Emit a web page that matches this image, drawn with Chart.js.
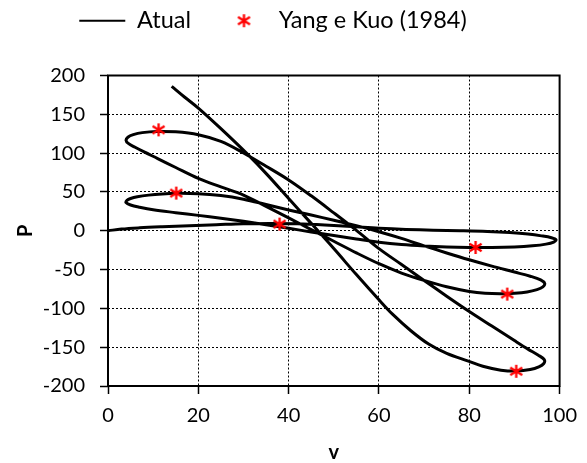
<!DOCTYPE html>
<html><head><meta charset="utf-8">
<script src="https://cdn.jsdelivr.net/npm/chart.js@4.4.1/dist/chart.umd.min.js"></script>
<style>html,body{margin:0;padding:0;background:#fff}</style>
</head><body>
<canvas id="c" width="587" height="463"></canvas>
<script>
// Atual: equilibrium path (v, P) in path order
const atualV = [0,3,7,12,18,24,30,36,42,48,54,60,66,72,78,84,89,93,96,98.2,99.2,
  98.7,97,94,90,85,80,75,70,65,60,55,50,45,40,35,30,25,20,15,10,7,5,4,4.2,
  5,6.5,9,12,15,20,25,30,35,40,45,50,55,60,65,70,75,80,85,90,93.5,95.8,96.7,
  96.3,95,92.8,90,87,83.5,80,75,70,65,60,55,50,45,40,35,30,25,20,15,11,8,6,4.5,4,
  4.4,5.6,7.6,10.8,15,20,25,30,35,40,45,50,55,60,65,70,75,80,85,90,93,95.3,96.6,
  96.5,95.4,93.5,90.5,87,83,79.8,75,71,67,63,60,55,50,45,40,35.3,31,25,20,17,14.1];
const atualP = [0,2.2,3.8,5.2,6.6,7.8,9,9.5,8.9,7.4,5.4,3.2,1.7,0.8,0.1,-0.9,-2.4,-4.3,-6.6,-9,-11.6,
  -14.5,-17.2,-19.4,-20.9,-21.6,-21.5,-20.9,-19.7,-17.8,-14.8,-10.6,-6.1,-1.5,3.1,7.7,12.1,16.1,19.8,23.3,27,30.3,33.2,36.2,39,
  41.5,43.8,45.9,47.4,48.2,47.8,45.3,40.6,33.8,26.8,20.2,13.6,6.6,-1.2,-9.8,-19.4,-28.6,-37.4,-45.6,-53.2,-58.6,-63.3,-67.8,
  -72.3,-75.8,-78.8,-80.5,-81.2,-80.6,-78.2,-72.2,-64,-54.5,-42.5,-28.5,-13.5,1.5,16.5,31.5,46,56.5,67.5,81.5,93,101.5,107.5,112.5,116.5,
  120.5,123.8,126.4,127.9,127.4,123.6,115,100.2,83.2,65.5,45,23,0.5,-23,-43.5,-64,-84.3,-104,-122.8,-141.5,-152.5,-160.3,-166,
  -171,-175.3,-178.8,-180.8,-179.6,-174.6,-168,-158,-146,-128.5,-107.5,-89,-56.5,-23,9.5,41.5,72,98,131.5,158,172,186];
// Yang e Kuo (1984)
const yangV = [11.2,15.1,38.0,81.4,88.4,90.4];
const yangP = [130,48.5,8.6,-21.5,-81.6,-181];
// tick values
const xTicks = [0,20,40,60,80,100];
const yTicks = [-200,-150,-100,-50,0,50,100,150,200];

Chart.defaults.font.family = "Lato, 'Open Sans', sans-serif";
Chart.defaults.color = '#000';

function makeStar() {
  const c = document.createElement('canvas');
  c.width = 15; c.height = 15;
  const g = c.getContext('2d');
  g.strokeStyle = '#ff0000'; g.lineWidth = 2.3;
  g.beginPath();
  g.moveTo(7.5, 1); g.lineTo(7.5, 14);
  g.moveTo(1.5, 3.8); g.lineTo(13.5, 11.2);
  g.moveTo(1.5, 11.2); g.lineTo(13.5, 3.8);
  g.stroke();
  return c;
}
const star = makeStar();

const framePlugin = {
  id: 'frame',
  beforeDatasetsDraw(chart) {
    const {ctx, chartArea: a} = chart;
    ctx.save();
    ctx.strokeStyle = '#000'; ctx.lineWidth = 2;
    ctx.strokeRect(a.left, a.top, a.right - a.left, a.bottom - a.top);
    ctx.restore();
  }
};

const gridOpts = {color: '#000', lineWidth: 1, tickLength: 8, tickColor: '#000', tickWidth: 1.5, tickBorderDash: []};

new Chart(document.getElementById('c'), {
  type: 'scatter',
  data: {
    datasets: [
      {
        label: 'Atual',
        data: atualV.map((v, i) => ({x: v, y: atualP[i]})),
        showLine: true, borderColor: '#000', backgroundColor: '#000',
        borderWidth: 3, pointBorderWidth: 2, pointRadius: 0, pointHoverRadius: 0,
        pointStyle: 'line', tension: 0.35, order: 2
      },
      {
        label: 'Yang e Kuo (1984)',
        data: yangV.map((v, i) => ({x: v, y: yangP[i]})),
        showLine: false, pointStyle: star, pointRadius: 7,
        borderColor: '#ff0000', backgroundColor: '#ff0000', order: 1
      }
    ]
  },
  options: {
    responsive: false, animation: false, devicePixelRatio: 1,
    layout: {padding: {left: -16, right: 25, top: -21, bottom: 0}},
    plugins: {
      legend: {
        display: true, position: 'top',
        labels: {
          font: {size: 23.5}, color: '#000', usePointStyle: true, pointStyleWidth: 46, padding: 30,
          sort: (a, b) => a.datasetIndex - b.datasetIndex
        }
      },
      title: {display: true, text: '', weight: 500, padding: {top: 21, bottom: 0}, font: {size: 10}},
      tooltip: {enabled: false}
    },
    scales: {
      x: {
        type: 'linear', position: 'bottom', min: 0, max: 100,
        afterBuildTicks: s => { s.ticks = xTicks.map(v => ({value: v})); },
        afterFit: s => { s.height = 77; },
        grid: gridOpts,
        border: {display: false, dash: [2, 2]},
        ticks: {font: {size: 20}, color: '#000', padding: 10, maxRotation: 0},
        title: {display: true, text: 'v', font: {size: 20, weight: 'bold'}, color: '#000', padding: {top: 0, bottom: -2}}
      },
      y: {
        type: 'linear', position: 'left', min: -200, max: 200,
        afterBuildTicks: s => { s.ticks = yTicks.map(v => ({value: v})); },
        afterFit: s => { s.width = 124; },
        grid: gridOpts,
        border: {display: false, dash: [2, 2]},
        ticks: {font: {size: 20}, color: '#000', padding: 15},
        title: {display: true, text: 'P', font: {size: 20, weight: 'bold'}, color: '#000', padding: {top: 30, bottom: 0}}
      }
    }
  },
  plugins: [framePlugin]
});
</script>
</body></html>
